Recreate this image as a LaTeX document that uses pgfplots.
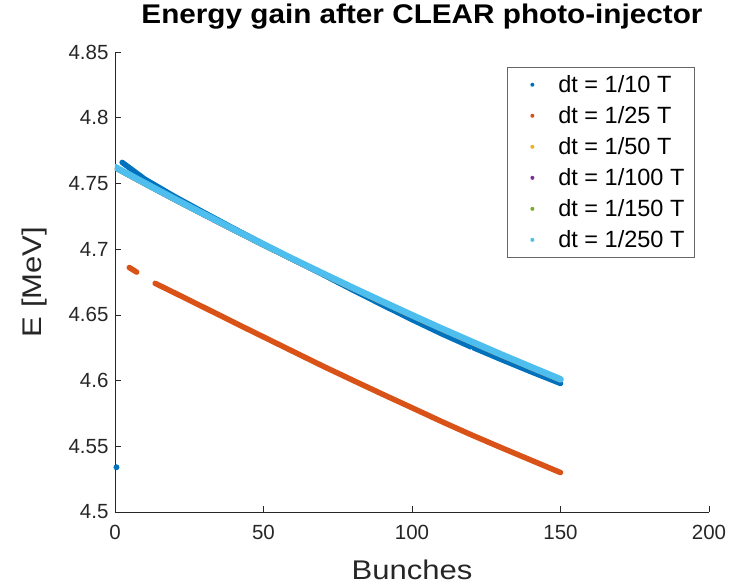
\documentclass[border=0pt]{standalone}
\usepackage{pgfplots}
\pgfplotsset{compat=1.18}
\usepackage{fontspec}
\setmainfont{Liberation Sans}
\newfontfamily\titlefont[FakeStretch=1.1]{Liberation Sans}
\newfontfamily\labelfont[FakeStretch=1.15]{Liberation Sans}
\definecolor{mgray}{gray}{0.15}
\definecolor{c1}{HTML}{0072BD}
\definecolor{c2}{HTML}{D95319}
\definecolor{c3}{HTML}{EDB120}
\definecolor{c4}{HTML}{7E2F8E}
\definecolor{c5}{HTML}{77AC30}
\definecolor{c6}{HTML}{4DBEEE}
\begin{document}
\begin{tikzpicture}
\begin{axis}[
  name=ax,
  scale only axis, width=594pt, height=460pt,
  xmin=0, xmax=200, ymin=4.5, ymax=4.85,
  xtick={0,50,100,150,200},
  ytick={4.5,4.55,4.6,4.65,4.7,4.75,4.8,4.85},
  axis x line*=bottom, axis y line*=left,
  axis line style={-, color=mgray, line width=0.7pt},
  tick align=inside, major tick length=6pt,
  tick style={mgray, line width=0.7pt},
  /pgf/number format/assume math mode=true,
  ticklabel style={font=\fontsize{20.5}{24}\selectfont, color=mgray},
  yticklabel style={/pgf/number format/fixed, /pgf/number format/precision=2, xshift=-3pt},
  xticklabel style={yshift=-10pt},
  title={\titlefont\bfseries Energy gain after CLEAR photo-injector},
  title style={font=\fontsize{27}{31}\selectfont, at={(axis description cs:0.5168,1.036)}, anchor=south, inner sep=0pt},
  xlabel={\labelfont Bunches}, ylabel={\labelfont E [MeV]},
  label style={font=\fontsize{27}{31}\selectfont, color=mgray, inner sep=0pt},
  xlabel style={at={(axis description cs:0.5,-0.1043)}, anchor=north},
  ylabel style={at={(axis description cs:-0.1145,0.5)}, anchor=south},
  legend style={at={(0.976,0.967)}, anchor=north east, draw=mgray!70, line width=0.6pt,
    font=\fontsize{23.5}{27}\selectfont, row sep=8.5pt, inner xsep=8pt, inner ysep=6pt},
  legend cell align=left,
  legend image code/.code={\path[draw=none] (0pt,0pt) -- (41pt,0pt); \fill[draw=none] (17pt,0pt) circle (2pt);},
]
% dt = 1/10 T
\addplot[c1, line width=5.5pt, line cap=round] coordinates {
(2.4,4.7660) (10,4.7533) (20,4.7401) (30,4.7278) (40,4.7157) (50,4.7039)
(60,4.6922) (70,4.6807) (80,4.6690) (90,4.6576) (100,4.6464) (110,4.6356)
(119.5,4.6260) (120.3,4.6278) (121,4.6247) (130,4.6161) (140,4.6068) (150,4.5978)};
\addlegendentry{dt = 1/10 T}
% dt = 1/25 T
\addplot[c2, line width=5.5pt, line cap=round] coordinates {
(13.5,4.6740) (20,4.6668) (30,4.6556) (42,4.6421) (50,4.6332) (60,4.6221)
(70,4.6110) (80,4.6003) (90,4.5897) (100,4.5793) (110,4.5688) (120,4.5587)
(130,4.5490) (140,4.5395) (150,4.5300)};
\addlegendentry{dt = 1/25 T}
% dt = 1/50 T
\addplot[c3, line width=3pt, line cap=round] coordinates {
(0,4.7612) (10,4.7490) (20,4.7370) (30,4.7253) (40,4.7137) (50,4.7023)
(60,4.6911) (70,4.6802) (80,4.6694) (90,4.6589) (100,4.6485) (110,4.6383)
(120,4.6284) (130,4.6186) (140,4.6091) (150,4.5997)};
\addlegendentry{dt = 1/50 T}
% dt = 1/100 T
\addplot[c4, line width=3pt, line cap=round] coordinates {
(0,4.7610) (10,4.7488) (20,4.7368) (30,4.7251) (40,4.7135) (50,4.7021)
(60,4.6909) (70,4.6800) (80,4.6692) (90,4.6587) (100,4.6483) (110,4.6381)
(120,4.6282) (130,4.6184) (140,4.6089) (150,4.5995)};
\addlegendentry{dt = 1/100 T}
% dt = 1/150 T
\addplot[c5, line width=3pt, line cap=round] coordinates {
(0,4.7611) (10,4.7489) (20,4.7369) (30,4.7252) (40,4.7136) (50,4.7022)
(60,4.6910) (70,4.6801) (80,4.6693) (90,4.6588) (100,4.6484) (110,4.6382)
(120,4.6283) (130,4.6185) (140,4.6090) (150,4.5996)};
\addlegendentry{dt = 1/150 T}
% dt = 1/250 T
\addplot[c6, line width=6.5pt, line cap=round] coordinates {
(0,4.7625) (10,4.7503) (20,4.7383) (30,4.7266) (40,4.7150) (50,4.7036)
(60,4.6924) (70,4.6815) (80,4.6707) (90,4.6602) (100,4.6498) (110,4.6396)
(120,4.6297) (130,4.6199) (140,4.6104) (150,4.6010)};
\addlegendentry{dt = 1/250 T}
% extra pieces
\addplot[c2, line width=5.5pt, line cap=round, forget plot] coordinates {(4.8,4.6860) (7.3,4.6825)};
\addplot[c1, only marks, mark=*, mark size=2.7pt, mark options={draw=c1, fill=c1}, forget plot] coordinates {(0.5,4.5340)};
\end{axis}
\path ([xshift=-115pt,yshift=-73pt]ax.south west) rectangle ([xshift=26pt,yshift=52pt]ax.north east);
\end{tikzpicture}
\end{document}
